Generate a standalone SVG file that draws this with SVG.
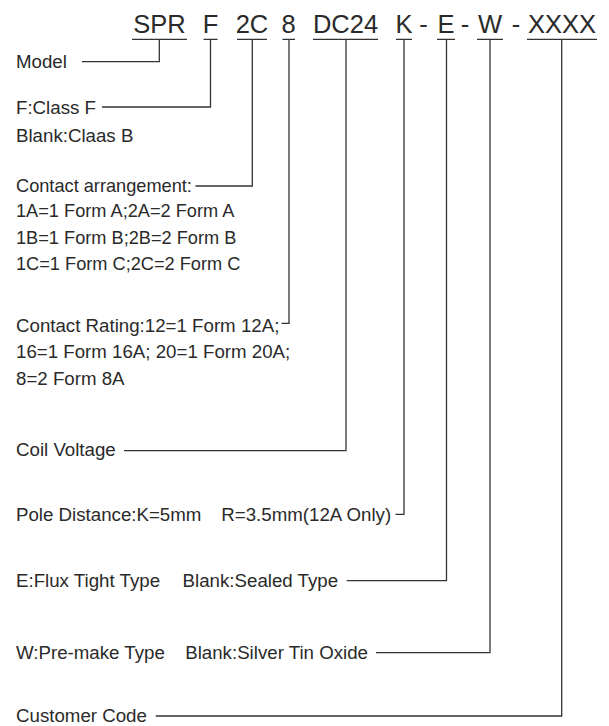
<svg xmlns="http://www.w3.org/2000/svg" width="609" height="726" viewBox="0 0 609 726">
<style>
.h{font-family:"Liberation Sans",Arial,sans-serif;font-size:25.5px;fill:#2a2a2a;text-anchor:middle}
.t{font-family:"Liberation Sans",Arial,sans-serif;font-size:18.7px;fill:#2a2a2a}
.s{font-size:18.2px}
.c{fill:none;stroke:#333;stroke-width:1.3}
</style>
<rect width="609" height="726" fill="#fff"/>
<g id="code">
<text class="h" x="159.5" y="32.5">SPR</text>
<text class="h" x="210.5" y="32.5">F</text>
<text class="h" x="252" y="32.5">2C</text>
<text class="h" x="288.5" y="32.5">8</text>
<text class="h" x="345.5" y="32.5">DC24</text>
<text class="h" x="404" y="32.5">K</text>
<text class="h" x="423.5" y="32.5">-</text>
<text class="h" x="446" y="32.5">E</text>
<text class="h" x="465" y="32.5">-</text>
<text class="h" x="490" y="32.5">W</text>
<text class="h" x="516" y="32.5">-</text>
<text class="h" x="562" y="32.5">XXXX</text>
</g>
<g id="model"><text class="t" x="16" y="67.5">Model</text></g>
<g id="class"><text class="t" x="16" y="113.5">F:Class F</text><text class="t" x="16" y="141.5">Blank:Claas B</text></g>
<g id="arrangement">
<text class="t s" x="16" y="191.5">Contact arrangement:</text>
<text class="t s" x="16" y="216.7">1A=1 Form A;2A=2 Form A</text>
<text class="t s" x="16" y="243.5">1B=1 Form B;2B=2 Form B</text>
<text class="t s" x="16" y="270">1C=1 Form C;2C=2 Form C</text>
</g>
<g id="rating">
<text class="t" x="16" y="331.5">Contact Rating:12=1 Form 12A;</text>
<text class="t" x="16" y="357.8">16=1 Form 16A; 20=1 Form 20A;</text>
<text class="t" x="16" y="384.5">8=2 Form 8A</text>
</g>
<g id="coil"><text class="t" x="16" y="456.3">Coil Voltage</text></g>
<g id="pole"><text class="t" x="16" y="520.5">Pole Distance:K=5mm</text><text class="t" x="221.3" y="520.5">R=3.5mm(12A Only)</text></g>
<g id="flux"><text class="t" x="16" y="586.7">E:Flux Tight Type</text><text class="t" x="182.6" y="586.7">Blank:Sealed Type</text></g>
<g id="premake"><text class="t" x="16" y="659">W:Pre-make Type</text><text class="t" x="185.2" y="659">Blank:Silver Tin Oxide</text></g>
<g id="customer"><text class="t" x="16" y="721.5">Customer Code</text></g>
<g id="connectors" class="c">
<path d="M132 39.3H187M159.3 39.3V61.7H82"/>
<path d="M203.5 39.3H217.5M210.5 39.3V107H102"/>
<path d="M237 39.3H267M252.3 39.3V186H195.5"/>
<path d="M282.5 39.3H295M289 39.3V323.3H281.5"/>
<path d="M313 39.3H378M346 39.3V450.7H124"/>
<path d="M396 39.3H412M404 39.3V514.3H395.5"/>
<path d="M437 39.3H455M446.5 39.3V580.7H346.7"/>
<path d="M477 39.3H503M490 39.3V652.7H376"/>
<path d="M527 39.3H597M561.7 39.3V716H155.7"/>
</g>
</svg>
